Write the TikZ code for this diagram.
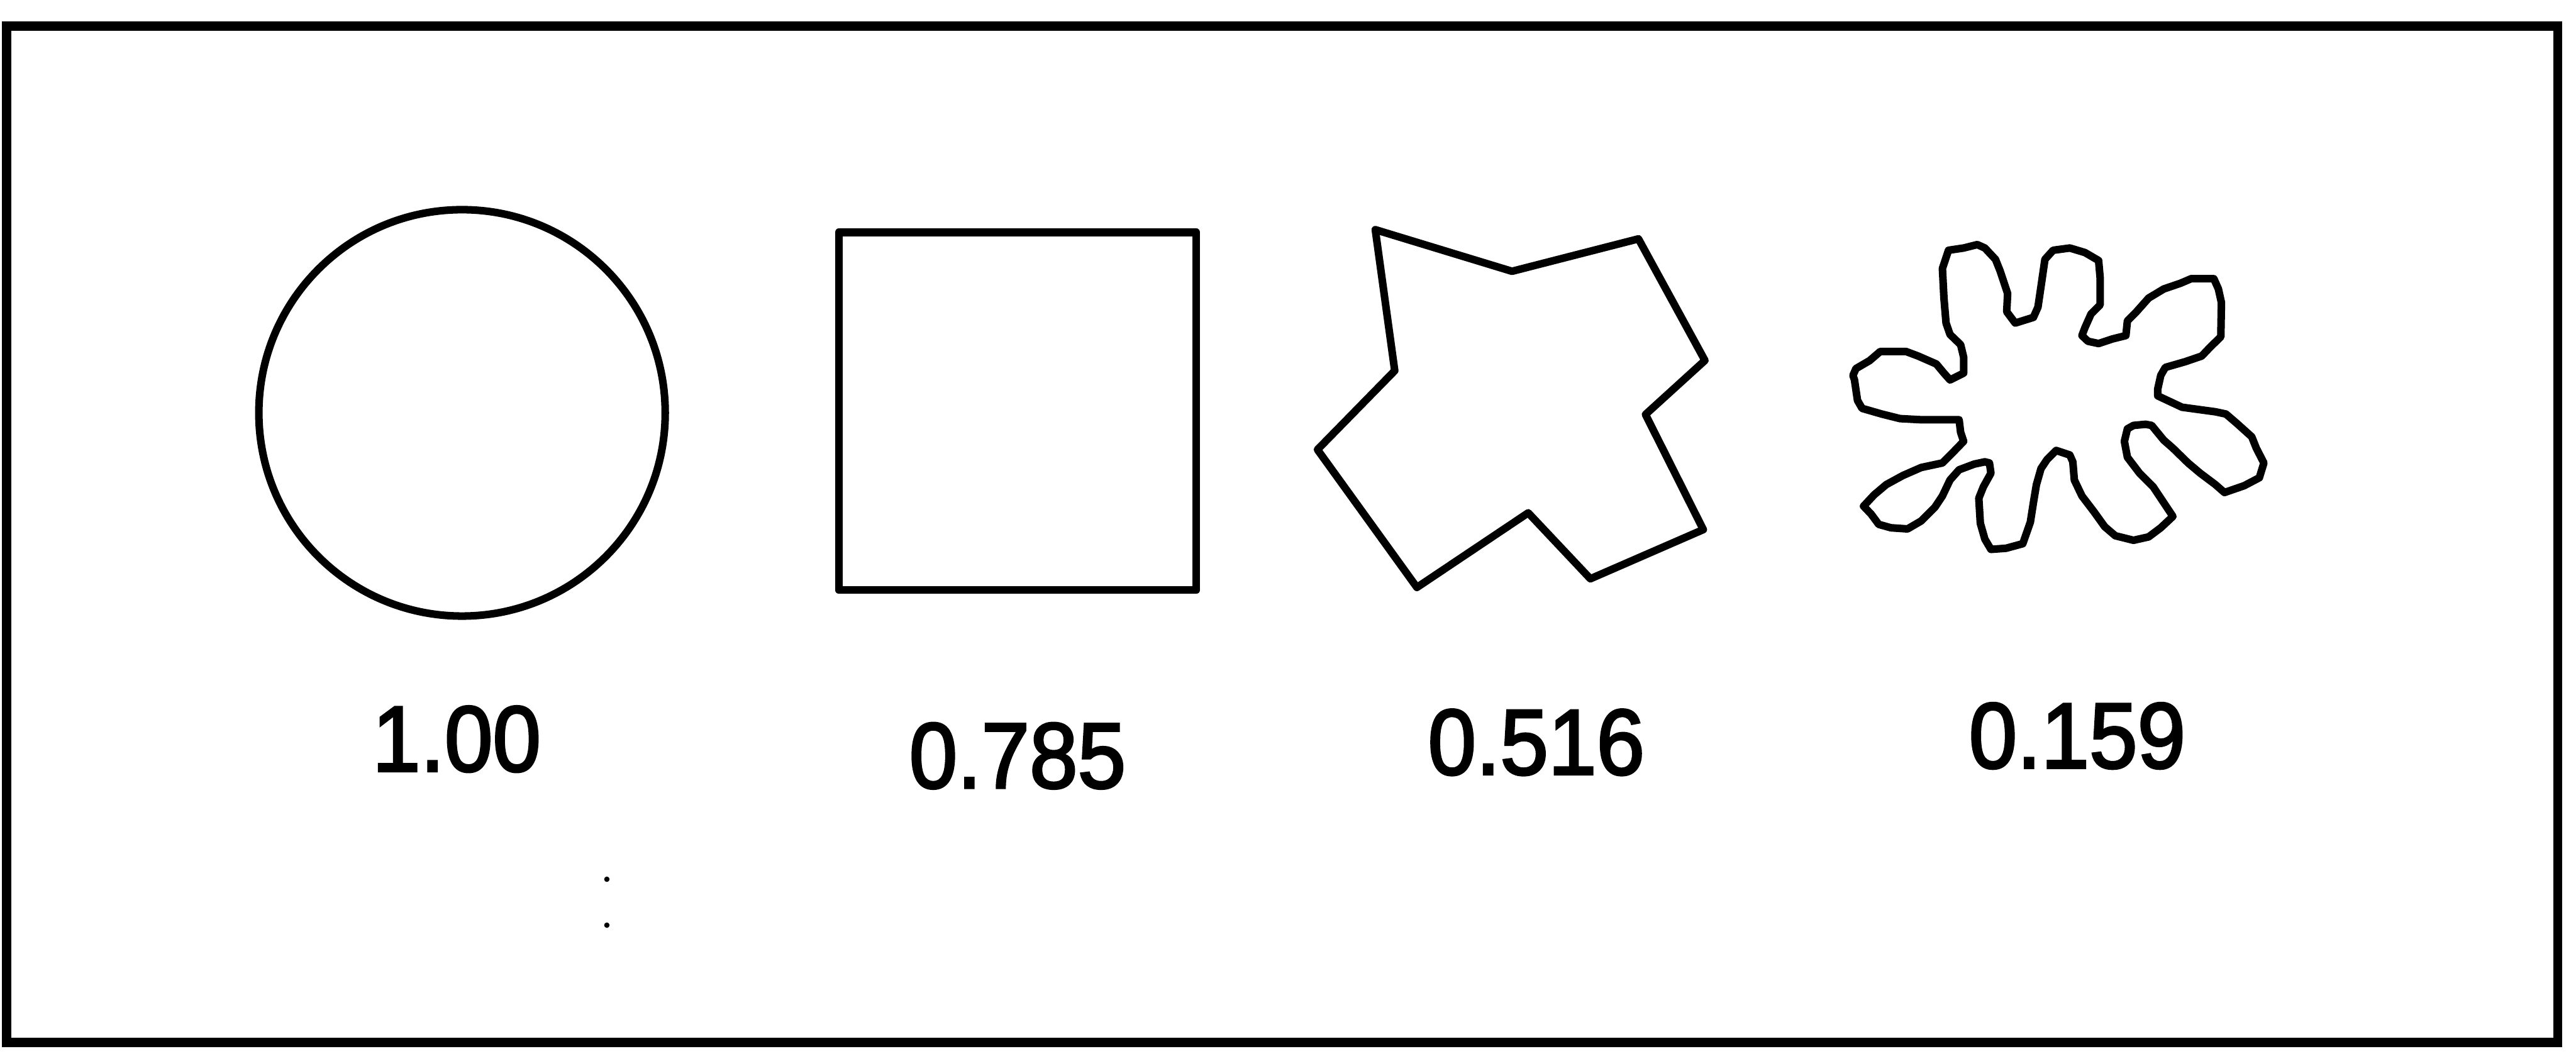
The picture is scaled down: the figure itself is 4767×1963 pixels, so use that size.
\documentclass[tikz,border=0pt]{standalone}
\usepackage{fontspec}
\setmainfont{Liberation Sans}
\newfontfamily\valfont[FakeBold=2.5]{Liberation Sans}
\begin{document}
\begin{tikzpicture}[x=0.01cm,y=-0.01cm,
  frame/.style={line width=0.17cm},
  shapeline/.style={line width=0.14cm, line join=round},
  val/.style={anchor=base, inner sep=0pt, font=\valfont\fontsize{49pt}{49pt}\selectfont}]
\useasboundingbox (0,0) rectangle (4767,1963);
% outer frame
\draw[frame] (12,48) rectangle (4733,1929);
% circle
\draw[shapeline] (855,764) circle (376);
% square
\draw[shapeline] (1552,430) rectangle (2214,1092);
% cross-like polygon
\draw[shapeline] (2545,425) -- (2798,502) -- (3032,442) -- (3155,667) -- (3045,767)
  -- (3152,980) -- (2943,1071) -- (2828,949) -- (2622,1087) -- (2438,832) -- (2581,686) -- cycle;
% blob
\begin{scope}[shift={(3370,400)}, xscale=0.5612, yscale=0.4209]
\draw[shapeline] (425,720) -- (470,690) -- (470,620) -- (460,565) -- (425,520) -- (412,470)
  -- (405,360) -- (400,230) -- (420,150) -- (470,140) -- (515,125) -- (540,140) -- (575,190)
  -- (590,240) -- (605,300) -- (615,340) -- (612,420) -- (640,470) -- (700,445) -- (715,400)
  -- (725,310) -- (738,190) -- (765,150) -- (820,140) -- (870,160) -- (915,195) -- (920,270)
  -- (920,390) -- (890,430) -- (870,490) -- (860,525) -- (880,550) -- (915,560) -- (960,540)
  -- (1005,525) -- (1010,460) -- (1040,420) -- (1080,360) -- (1130,320) -- (1185,295)
  -- (1220,275) -- (1295,275) -- (1310,320) -- (1320,380) -- (1318,530) -- (1280,580)
  -- (1255,615) -- (1200,640) -- (1135,665) -- (1120,700) -- (1110,760) -- (1110,790)
  -- (1150,815) -- (1190,840) -- (1245,850) -- (1300,860) -- (1335,870) -- (1370,910)
  -- (1420,970) -- (1435,1020) -- (1460,1085) -- (1445,1150) -- (1395,1185) -- (1330,1215)
  -- (1300,1180) -- (1250,1130) -- (1210,1085) -- (1160,1020) -- (1130,985) -- (1090,920)
  -- (1070,915) -- (1030,920) -- (1010,935) -- (1000,990) -- (1010,1060) -- (1050,1130)
  -- (1095,1190) -- (1125,1250) -- (1160,1320) -- (1120,1370) -- (1080,1410) -- (1030,1425)
  -- (970,1405) -- (935,1365) -- (900,1300) -- (860,1230) -- (835,1160) -- (830,1080)
  -- (820,1050) -- (775,1030) -- (745,1070) -- (725,1110) -- (710,1180) -- (700,1260)
  -- (690,1345) -- (665,1440) -- (610,1460) -- (560,1465) -- (540,1420) -- (525,1350)
  -- (520,1240) -- (535,1190) -- (560,1130) -- (555,1085) -- (540,1080) -- (505,1090)
  -- (455,1115) -- (425,1160) -- (400,1230) -- (375,1280) -- (330,1340) -- (285,1375)
  -- (230,1370) -- (190,1355) -- (165,1310) -- (140,1275) -- (175,1225) -- (215,1180)
  -- (270,1140) -- (330,1105) -- (400,1085) -- (430,1045) -- (470,990) -- (460,950)
  -- (455,895) -- (410,895) -- (330,895) -- (260,890) -- (200,870) -- (135,845)
  -- (120,810) -- (110,720) -- (105,700) -- (115,670) -- (160,635) -- (195,595)
  -- (280,595) -- (320,615) -- (380,650) -- (405,690) -- cycle;
\end{scope}
% labels
\node[val] (v1) at (845,1427) {\scalebox{0.93}[1]{1.00}};
\node[val] (v2) at (1883,1458) {\scalebox{0.93}[1]{0.785}};
\node[val] (v3) at (2843,1433) {\scalebox{0.93}[1]{0.516}};
\node[val] (v4) at (3844,1421) {\scalebox{0.93}[1]{0.159}};
% small specks
\fill (1123,1627) circle (5);
\fill (1123,1712) circle (5);
\end{tikzpicture}
\end{document}
